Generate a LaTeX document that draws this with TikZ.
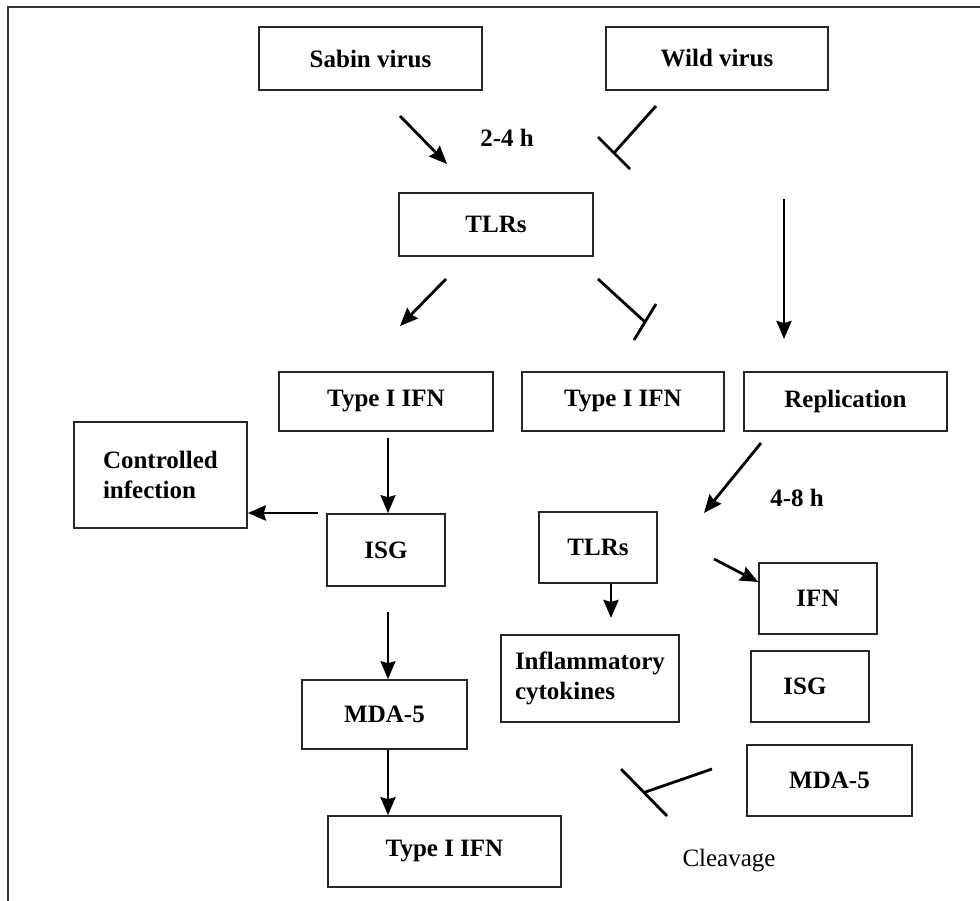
\documentclass[tikz,border=0pt]{standalone}
\usepackage{fontspec}
\setmainfont{Liberation Serif}
\usetikzlibrary{arrows.meta}
\begin{document}
\begin{tikzpicture}[x=1pt,y=-1pt,
  box/.style={draw=black!85,line width=1.6pt,rectangle,inner sep=0pt,align=center,
    font=\fontsize{25}{30}\selectfont\bfseries},
  lbl/.style={inner sep=0pt,font=\fontsize{25}{30}\selectfont\bfseries},
  arr/.style={line width=2.8pt,-{Stealth[length=18pt,width=15pt,inset=2pt]}},
  inh/.style={line width=2.8pt},
  frame/.style={draw=black!80,line width=2pt}]
\useasboundingbox (0,0) rectangle (980,901);
\draw[frame] (980,7.5) -- (8,7.5) -- (8,901);
% boxes
\node[box,minimum width=223pt,minimum height=63pt] (sabin) at (370.5,58.5) {Sabin virus};
\node[box,minimum width=222pt,minimum height=63pt] (wild) at (717,58.5) {Wild virus};
\node[box,minimum width=194pt,minimum height=63pt] (tlr1) at (496,224.5) {TLRs};
\node[box,minimum width=214pt,minimum height=59pt] (ifnL) at (386,401.5) {Type I IFN};
\node[box,minimum width=202pt,minimum height=59pt] (ifnM) at (623,401.5) {Type I IFN};
\node[box,minimum width=203pt,minimum height=59pt] (rep) at (845.5,401.5) {Replication};
\node[box,minimum width=173pt,minimum height=106pt,align=left,text width=115pt] (ctrl) at (160.5,475) {Controlled\\infection};
\node[box,minimum width=118pt,minimum height=72pt] (isgL) at (386,550) {ISG};
\node[box,minimum width=118pt,minimum height=71pt] (tlr2) at (598,547.5) {TLRs};
\node[box,minimum width=118pt,minimum height=71pt] (ifnR) at (818,598.5) {IFN};
\node[box,minimum width=178pt,minimum height=87pt,align=left,text width=150pt] (infl) at (590,678.5) {Inflammatory\\cytokines};
\node[box,minimum width=118pt,minimum height=71pt] (isgR) at (810,686.5) {\hspace*{-10pt}ISG};
\node[box,minimum width=165pt,minimum height=69pt] (mdaL) at (384.5,714.5) {MDA-5};
\node[box,minimum width=233pt,minimum height=71pt] (ifnB) at (444.5,851.5) {Type I IFN};
\node[box,minimum width=165pt,minimum height=71pt] (mdaR) at (829.5,780.5) {MDA-5};
% labels
\node[lbl] (t24) at (507,138) {2-4 h};
\node[lbl] (t48) at (797,498) {4-8 h};
\node[inner sep=0pt,font=\fontsize{25}{30}\selectfont] (clv) at (729,861) {Cleavage};
% coordinates for free-floating connectors
\coordinate (a1s) at (400,116); \coordinate (a1e) at (447,164);
\coordinate (a2s) at (446,279); \coordinate (a2e) at (400,326);
\coordinate (a3s) at (784,199); \coordinate (a3e) at (784,339);
\coordinate (a4s) at (388,438);
\coordinate (a5s) at (318,513);
\coordinate (a6s) at (761,443); \coordinate (a6e) at (704,513);
\coordinate (a7s) at (714,559); \coordinate (a7e) at (759,582);
\coordinate (a8e) at (611,618);
\coordinate (a9s) at (388,612);
\coordinate (i1s) at (656,106); \coordinate (i1e) at (614,153);
\coordinate (b1a) at (598,137); \coordinate (b1b) at (630,169);
\coordinate (i2s) at (598,279); \coordinate (i2e) at (645,322);
\coordinate (b2a) at (656,304); \coordinate (b2b) at (634,340);
\coordinate (i3s) at (712,769); \coordinate (i3e) at (644,792.5);
\coordinate (b3a) at (621,769); \coordinate (b3b) at (667,816);
% arrows
\draw[arr] (a1s) -- (a1e);
\draw[arr] (a2s) -- (a2e);
\draw[arr] (a3s) -- (a3e);
\draw[arr,line width=2pt] (a4s) -- (isgL.north -| a4s);
\draw[arr] (a5s) -- (ctrl.east |- a5s);
\draw[arr] (a6s) -- (a6e);
\draw[arr] (a7s) -- (ifnR.west |- a7e);
\draw[arr] (tlr2.south -| a8e) -- (a8e);
\draw[arr,line width=2pt] (a9s) -- (mdaL.north -| a9s);
\draw[arr] (mdaL.south -| a9s) -- (ifnB.north -| a9s);
% inhibitions
\draw[inh] (i1s) -- (i1e); \draw[inh] (b1a) -- (b1b);
\draw[inh] (i2s) -- (i2e); \draw[inh] (b2a) -- (b2b);
\draw[inh] (i3s) -- (i3e); \draw[inh] (b3a) -- (b3b);
\end{tikzpicture}
\end{document}
